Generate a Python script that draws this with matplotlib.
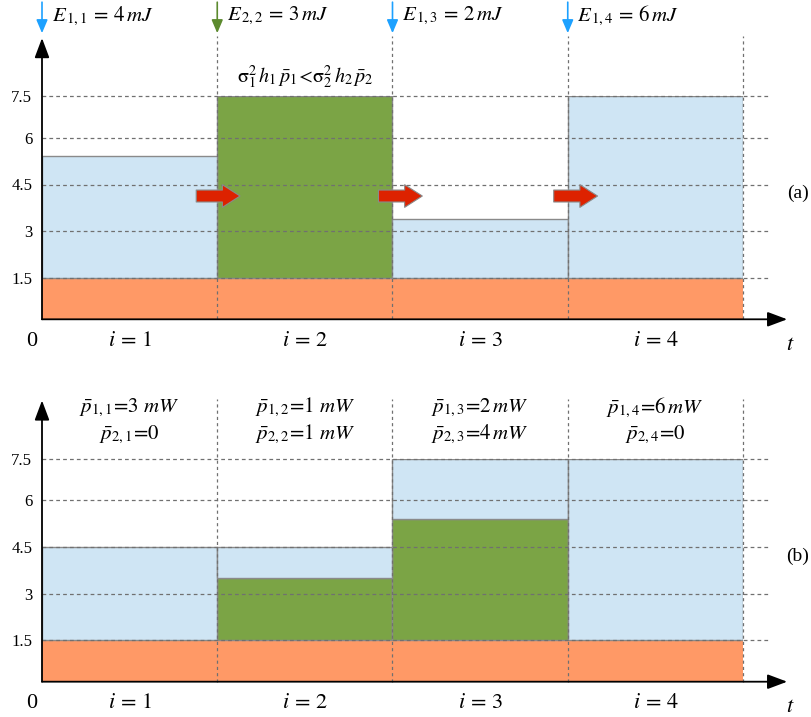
import numpy as np
import matplotlib
matplotlib.use("Agg")
import matplotlib.pyplot as plt
from matplotlib.patches import FancyArrowPatch, ArrowStyle

plt.rcParams['font.family'] = 'serif'
plt.rcParams['font.serif'] = ['Liberation Serif', 'DejaVu Serif']
plt.rcParams['mathtext.fontset'] = 'stix'

# ---- data ----
blocks = [1, 2, 3, 4]
noise = [1.5, 1.5, 1.5, 1.5]

# panel (a): heights above the noise floor
green_a = [0, 6.0, 0, 0]
blue_a = [3.9, 0, 1.9, 6.0]

# panel (b)
green_b = [0, 2.0, 3.9, 0]
blue_b = [3.0, 1.0, 2.1, 6.0]

# energy arrivals (slot start, subscript, value, user)
e_times = [0, 1, 2, 3]
e_subs = ['1,1', '2,2', '1,3', '1,4']
e_vals = ['4', '3', '2', '6']
e_user = [1, 2, 1, 1]

# powers in panel (b)
p1_vals = ['3\\ mW', '1\\ mW', '2\\,mW', '6\\,mW']
p2_vals = ['0', '1\\ mW', '4\\,mW', '0']

# red "carry over" arrows in panel (a)
carry_starts = [0.88, 1.92, 2.92]
carry_len = 0.25
carry_level = 4.13

tick_vals = [0, 1.5, 3, 4.5, 6, 7.5]
tick_labels = ['', '1.5', '3', '4.5', '6', '7.5']

# the drawing is not uniformly spaced on the y axis
tick_pos = np.array([0, 41.5, 88.1, 134.8, 181.7, 222.85]) / 222.85 * 7.5


def fwd(v):
    return np.interp(v, tick_vals, tick_pos)


def inv(p):
    return np.interp(p, tick_pos, tick_vals)


ORANGE = '#FF9966'
GREEN = '#7BA445'
LBLUE = '#CFE5F4'
EDGE = '#8A8A8A'
GRID = '#707070'
RED = '#DD2200'
ABLUE = '#1DA1FF'
AGREEN = '#5C8A2E'

W, H = 812, 717
fig = plt.figure(figsize=(W / 100, H / 100), dpi=100)


def panel(axis_y, green, blue, tag):
    ax = fig.add_axes([42 / W, (H - axis_y) / H, 701 / W, 222.85 / H])
    ax.set_xlim(0, 4)
    ax.set_yscale('function', functions=(fwd, inv))
    ax.set_ylim(0, 7.5)
    ax.set_xticks([])
    ax.set_yticks(tick_vals[1:])
    ax.set_yticklabels(tick_labels[1:])
    ax.tick_params(axis='y', length=0, pad=7, labelsize=12)
    for s in ax.spines.values():
        s.set_visible(False)
    ax.patch.set_alpha(0)

    centers = np.array(blocks) - 0.5
    nz = np.array(noise)
    g = np.array(green)
    b = np.array(blue)
    ax.bar(centers, nz, width=1, color=ORANGE, edgecolor='none', zorder=1)
    m = g > 0
    ax.bar(centers[m], g[m], bottom=nz[m], width=1, color=GREEN,
           edgecolor=EDGE, lw=1, zorder=1)
    m = b > 0
    ax.bar(centers[m], b[m], bottom=(nz + g)[m], width=1, color=LBLUE,
           edgecolor=EDGE, lw=1, zorder=1)

    for v in tick_vals[1:]:
        ax.plot([0, 1.0385], [v, v], transform=ax.get_yaxis_transform(),
                ls=(0, (3, 2.5)), color=GRID, lw=0.9, clip_on=False, zorder=3)
    for t in blocks:
        ax.plot([t, t], [0, 1.27], transform=ax.get_xaxis_transform(),
                ls=(0, (2.5, 2.5)), color=GRID, lw=0.9, clip_on=False, zorder=3)

    ap = dict(arrowstyle='-|>,head_length=0.4,head_width=0.15', mutation_scale=30,
              color='black', lw=1.3, shrinkA=0, shrinkB=0)
    ax.annotate('', xy=(1.063, 0), xytext=(0, 0), xycoords='axes fraction', arrowprops=ap)
    ax.annotate('', xy=(0, 1.262), xytext=(0, 0), xycoords='axes fraction', arrowprops=ap)

    ax.annotate('0', xy=(0, 0), xycoords='axes fraction', xytext=(-10, -22),
                textcoords='offset pixels', ha='center', va='center', fontsize=16)
    for k, c in enumerate(centers):
        ax.annotate(rf'$i\,{{=}}\,{blocks[k]}$', xy=(c, 0), xycoords=('data', 'axes fraction'),
                    xytext=(0, -22), textcoords='offset pixels',
                    ha='center', va='center', fontsize=16)
    ax.annotate(r'$t$', xy=(1.067, 0), xycoords='axes fraction', xytext=(0, -26),
                textcoords='offset pixels', ha='center', va='center', fontsize=16)
    ax.text(1.078, 0.563, tag, transform=ax.transAxes, ha='center', va='center',
            fontsize=14)
    return ax


ax1 = panel(319.3, green_a, blue_a, '(a)')
ax2 = panel(681.7, green_b, blue_b, '(b)')

# energy arrivals
tr = ax1.get_xaxis_transform()
for t0, sub, val, u in zip(e_times, e_subs, e_vals, e_user):
    col = ABLUE if u == 1 else AGREEN
    ax1.annotate('', xy=(t0, 1.284), xytext=(t0, 1.423), xycoords=('data', 'axes fraction'),
                 arrowprops=dict(arrowstyle='-|>,head_length=0.4,head_width=0.17',
                                 mutation_scale=20, color=col, lw=1.2,
                                 shrinkA=0, shrinkB=0))
    ax1.text(t0 + 0.055, 1.36, rf'$E_{{\,{sub}}}\,{{=}}\,{val}\,mJ$', transform=tr,
             ha='left', va='center', fontsize=15)

ax1.text(1.5, 1.087,
         r'$\mathrm{\sigma}_1^2\,h_1\,\bar{p}_1\!<\!\mathrm{\sigma}_2^2\,h_2\,\bar{p}_2$',
         transform=tr, ha='center', va='center', fontsize=14.5)

for s in carry_starts:
    arr = FancyArrowPatch((s, carry_level), (s + carry_len, carry_level),
                          arrowstyle=ArrowStyle.Simple(head_length=12.7, head_width=16.3,
                                                       tail_width=8.6),
                          mutation_scale=1, fc=RED, ec=EDGE, lw=0.8,
                          shrinkA=0, shrinkB=0, zorder=4)
    ax1.add_patch(arr)

# power labels
tr2 = ax2.get_xaxis_transform()
for k, c in enumerate(np.array(blocks) - 0.5):
    ax2.text(c, 1.229, rf'$\bar{{p}}_{{1,{blocks[k]}}}\!=\!{p1_vals[k]}$', transform=tr2,
             ha='center', va='center', fontsize=15)
    ax2.text(c, 1.108, rf'$\bar{{p}}_{{2,{blocks[k]}}}\!=\!{p2_vals[k]}$', transform=tr2,
             ha='center', va='center', fontsize=15)

fig.savefig('out.png', dpi=100)
